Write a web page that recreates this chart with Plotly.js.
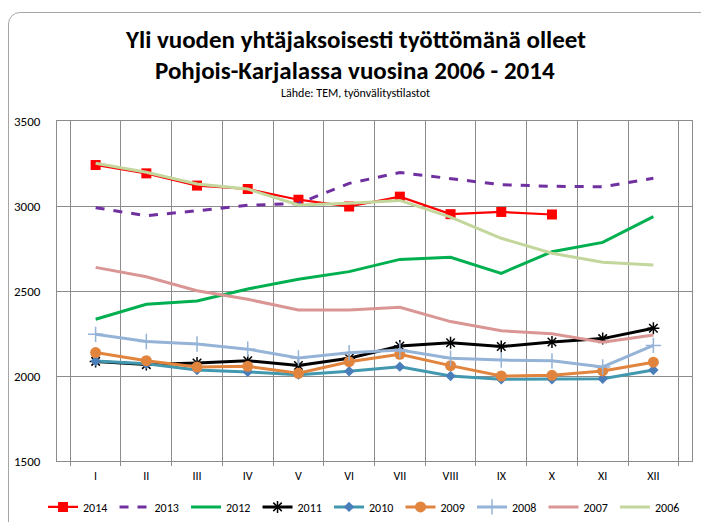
<!DOCTYPE html>
<html>
<head>
<meta charset="utf-8">
<script src="https://cdn.plot.ly/plotly-3.0.1.min.js"></script>
<style>
  html, body { margin: 0; padding: 0; background: #fff; }
  #wrap { position: relative; width: 701px; height: 522px; overflow: hidden; }
  #chart { position: absolute; left: 0; top: 0; width: 701px; height: 522px; }
  #frame { position: absolute; left: 8px; top: 12px; width: 720px; height: 530px;
           border: 1px solid #a6a6a6; border-radius: 12px; pointer-events: none; }
</style>
</head>
<body>
<div id="wrap">
  <div id="chart"></div>
  <div id="frame"></div>
</div>
<script>
const months = ['I','II','III','IV','V','VI','VII','VIII','IX','X','XI','XII'];
const y2014 = [3241, 3192, 3120, 3100, 3037, 2997, 3055, 2952, 2965, 2950, null, null];
const y2013 = [2990, 2943, 2972, 3004, 3015, 3133, 3197, 3163, 3125, 3116, 3113, 3163];
const y2012 = [2334, 2422, 2441, 2512, 2569, 2614, 2686, 2698, 2604, 2731, 2786, 2937];
const y2011 = [2086, 2067, 2076, 2090, 2062, 2104, 2176, 2196, 2173, 2200, 2220, 2281];
const y2010 = [2088, 2072, 2035, 2024, 2008, 2028, 2055, 2000, 1981, 1981, 1984, 2035];
const y2009 = [2138, 2090, 2053, 2057, 2016, 2084, 2128, 2061, 2000, 2004, 2030, 2081];
const y2008 = [2245, 2203, 2188, 2158, 2106, 2137, 2153, 2104, 2094, 2089, 2053, 2180];
const y2007 = [2639, 2584, 2502, 2451, 2388, 2388, 2404, 2320, 2266, 2249, 2199, 2241];
const y2006 = [3251, 3198, 3129, 3100, 3006, 3016, 3033, 2935, 2810, 2722, 2669, 2653];
const yTicks = [1500, 2000, 2500, 3000, 3500];

function tr(name, y, color, width, marker, dash) {
  const t = {
    type: 'scatter', x: months, y: y, name: name,
    mode: marker ? 'lines+markers' : 'lines',
    line: {color: color, width: width, dash: dash || 'solid'},
    connectgaps: false, hoverinfo: 'skip'
  };
  if (marker) t.marker = marker;
  return t;
}

const data = [
  tr('2014', y2014, '#ff0000', 2.2, {symbol: 'square', size: 10, color: '#ff0000'}),
  tr('2013', y2013, '#7030a0', 3, null, 'dash'),
  tr('2012', y2012, '#00b050', 3),
  tr('2011', y2011, '#000000', 3, {symbol: 'asterisk-open', size: 10, color: '#000000', line: {color: '#000000', width: 1.5}}),
  tr('2010', y2010, '#4198af', 3, {symbol: 'diamond', size: 8, color: '#4a7ebb'}),
  tr('2009', y2009, '#e0843e', 3, {symbol: 'circle', size: 11, color: '#e0843e'}),
  tr('2008', y2008, '#95b3d7', 3, {symbol: 'cross-thin-open', size: 11, color: '#95b3d7', line: {color: '#95b3d7', width: 1.5}}),
  tr('2007', y2007, '#d99694', 3),
  tr('2006', y2006, '#c3d69b', 3)
];

const font = 'Carlito, "Liberation Sans Narrow", "Liberation Sans", Arial, sans-serif';

const layout = {
  width: 701, height: 522,
  margin: {l: 57, r: 9, t: 121, b: 61, autoexpand: false},
  paper_bgcolor: 'rgba(0,0,0,0)', plot_bgcolor: '#ffffff',
  showlegend: true,
  font: {family: font, size: 12, color: '#000'},
  xaxis: {
    type: 'category', tickson: 'boundaries', showgrid: true, gridcolor: '#8c8c8c', gridwidth: 1,
    showline: true, linecolor: '#8c8c8c', linewidth: 1, mirror: true,
    ticks: 'outside', ticklen: 4, tickcolor: '#8c8c8c', ticklabelstandoff: 4,
    tickfont: {family: font, size: 12, color: '#000'},
    fixedrange: true
  },
  yaxis: {
    range: [1500, 3500], tickvals: yTicks, ticktext: yTicks.map(String),
    showgrid: true, gridcolor: '#8c8c8c', gridwidth: 1, zeroline: false,
    showline: true, linecolor: '#8c8c8c', linewidth: 1, mirror: true,
    ticks: '', ticklabelstandoff: 13,
    tickfont: {family: font, size: 13, color: '#000'},
    fixedrange: true
  },
  legend: {
    orientation: 'h', x: -0.022, xanchor: 'left', y: -0.135, yanchor: 'middle',
    entrywidth: 26.5, entrywidthmode: 'pixels', itemwidth: 30,
    font: {family: font, size: 12, color: '#000'},
    bgcolor: 'rgba(0,0,0,0)', traceorder: 'normal'
  },
  annotations: [
    {xref: 'paper', yref: 'paper', x: 0.47, y: 1, yshift: 82, xanchor: 'center', yanchor: 'middle',
     showarrow: false, text: '<b>Yli vuoden yhtäjaksoisesti työttömänä olleet</b>',
     font: {family: font, size: 25, color: '#000'}},
    {xref: 'paper', yref: 'paper', x: 0.47, y: 1, yshift: 51, xanchor: 'center', yanchor: 'middle',
     showarrow: false, text: '<b>Pohjois-Karjalassa vuosina 2006 - 2014</b>',
     font: {family: font, size: 25, color: '#000'}},
    {xref: 'paper', yref: 'paper', x: 0.47, y: 1, yshift: 28, xanchor: 'center', yanchor: 'middle',
     showarrow: false, text: 'Lähde: TEM, työnvälitystilastot',
     font: {family: font, size: 12, color: '#000'}}
  ]
};

Plotly.newPlot('chart', data, layout, {displayModeBar: false, staticPlot: true});
</script>
</body>
</html>
